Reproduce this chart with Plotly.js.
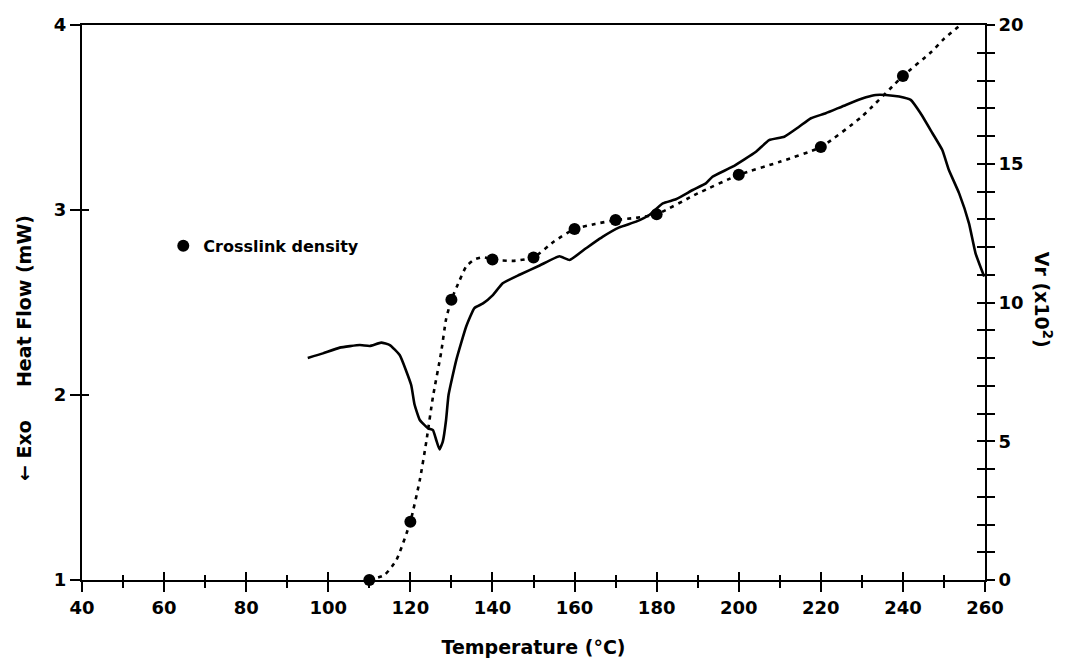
<!DOCTYPE html>
<html>
<head>
<meta charset="utf-8">
<script src="https://cdn.plot.ly/plotly-3.0.1.min.js"></script>
<style>
  html, body { margin: 0; padding: 0; background: #fff; }
  #chart { width: 1071px; height: 665px; }
</style>
</head>
<body>
<div id="chart"></div>
<script>
// DSC heat flow trace (left axis, mW) versus temperature (°C)
const heatT = [95, 98.7, 102.8, 107.7, 110.1, 112.9, 115, 117.4, 120.2, 121, 122.3, 124.3, 125.5, 126.3,
  127.1, 127.9, 128.7, 129.3, 131.2, 133.6, 135.6, 137.7, 140.1, 142.5, 146.6, 151.5, 156.3, 158.8,
  162.8, 166.9, 170.9, 175, 178.2, 181.5, 184.7, 188.8, 192, 193.6, 198.5, 204.2, 207.4, 211.1,
  214.7, 217.6, 221.2, 226.1, 231, 233.4, 235.8, 239.1, 241.9, 244.3, 247.2, 249.6, 251.2, 253.7,
  256.1, 257.7, 259.8];
const heatFlow = [2.2, 2.225, 2.256, 2.27, 2.265, 2.283, 2.27, 2.216, 2.054, 1.95, 1.865, 1.82, 1.81, 1.757,
  1.706, 1.748, 1.865, 2.0, 2.19, 2.37, 2.47, 2.495, 2.54, 2.604, 2.65, 2.7, 2.75, 2.73,
  2.793, 2.856, 2.906, 2.937, 2.973, 3.036, 3.058, 3.108, 3.144, 3.18, 3.234, 3.315, 3.378, 3.396,
  3.45, 3.496, 3.523, 3.568, 3.609, 3.622, 3.622, 3.613, 3.595, 3.523, 3.415, 3.324, 3.216, 3.09,
  2.928, 2.766, 2.64];

// Crosslink density measurements, Vr (x10^2), right axis
const crossT = [110, 120, 130, 140, 150, 160, 170, 180, 200, 220, 240];
const crossVr = [0, 2.1, 10.1, 11.55, 11.62, 12.65, 12.97, 13.18, 14.6, 15.6, 18.16];

// Hand-drawn guide curve through the crosslink points
const guideT = [110, 113.7, 116.6, 120, 122.3, 123.9, 125.5, 127.5, 128.7, 130, 132, 133.6, 135.6, 137.7,
  140, 145, 150, 155, 160, 165, 170, 175, 180, 190, 200, 210, 220, 230, 240, 247, 250, 254];
const guideVr = [0, 0.18, 0.72, 2.1, 3.6, 5.0, 6.6, 8.2, 9.4, 10.1, 10.8, 11.3, 11.55, 11.63,
  11.55, 11.5, 11.62, 12.2, 12.65, 12.83, 12.97, 13.05, 13.18, 13.93, 14.6, 15.07, 15.6, 16.7, 18.16, 19.04, 19.5, 20.0];

// Axis tick settings
const xTicks = [40, 60, 80, 100, 120, 140, 160, 180, 200, 220, 240, 260];
const leftTicks = [1, 2, 3, 4];
const rightTicks = [0, 5, 10, 15, 20];

const FONT = 'DejaVu Sans, sans-serif';
const INK = '#000';

const traces = [
  {
    x: heatT, y: heatFlow, xaxis: 'x', yaxis: 'y',
    mode: 'lines', line: {color: INK, width: 2.6, shape: 'spline', smoothing: 0.4},
    showlegend: false, hoverinfo: 'skip'
  },
  {
    x: guideT, y: guideVr, xaxis: 'x', yaxis: 'y2',
    mode: 'lines', line: {color: INK, width: 2.6, dash: '4px,5px', shape: 'spline', smoothing: 0.5},
    showlegend: false, hoverinfo: 'skip'
  },
  {
    x: crossT, y: crossVr, xaxis: 'x', yaxis: 'y2',
    mode: 'markers', name: 'Crosslink density',
    marker: {color: INK, size: 12}, cliponaxis: false
  },
  // carriers for the inward half of the crossing tick marks
  {x: [null], y: [null], xaxis: 'x2', yaxis: 'y3', showlegend: false, hoverinfo: 'skip'},
  {x: [null], y: [null], xaxis: 'x2', yaxis: 'y4', showlegend: false, hoverinfo: 'skip'}
];

const axisLine = {showline: true, linecolor: INK, linewidth: 2, showgrid: false, zeroline: false};
const NB = '\u00a0';

const layout = {
  width: 1071, height: 665,
  margin: {l: 82, r: 86, t: 25, b: 85},
  paper_bgcolor: '#fff', plot_bgcolor: '#fff',
  font: {family: FONT, color: INK, size: 18, weight: 'bold'},
  showlegend: true,
  legend: {
    x: 0.09, xanchor: 'left', y: 0.602, yanchor: 'middle',
    font: {family: FONT, size: 16, color: INK, weight: 'bold'},
    bgcolor: 'rgba(0,0,0,0)', borderwidth: 0
  },
  xaxis: Object.assign({}, axisLine, {
    range: [40, 260], tickmode: 'array', tickvals: xTicks,
    ticks: 'outside', ticklen: 10, tickwidth: 2, tickcolor: INK,
    minor: {dtick: 10, tick0: 40, ticks: 'outside', ticklen: 6, tickwidth: 2, tickcolor: INK},
    mirror: true,
    tickfont: {family: FONT, size: 18, weight: 'bold'},
    title: {text: 'Temperature (°C)', font: {family: FONT, size: 19, weight: 'bold'}, standoff: 24}
  }),
  xaxis2: {
    overlaying: 'x', anchor: 'y', side: 'bottom', range: [40, 260],
    tickmode: 'array', tickvals: xTicks, ticks: 'inside', ticklen: 8, tickwidth: 2, tickcolor: INK,
    minor: {dtick: 10, tick0: 40, ticks: 'inside', ticklen: 5, tickwidth: 2, tickcolor: INK},
    showticklabels: false, showgrid: false, zeroline: false, showline: false
  },
  yaxis: Object.assign({}, axisLine, {
    range: [1, 4], tickmode: 'array', tickvals: leftTicks,
    ticks: 'outside', ticklen: 10, tickwidth: 2, tickcolor: INK,
    tickfont: {family: FONT, size: 18, weight: 'bold'}
  }),
  yaxis3: {
    overlaying: 'y', anchor: 'x', side: 'left', range: [1, 4],
    tickmode: 'array', tickvals: leftTicks, ticks: 'inside', ticklen: 7, tickwidth: 2, tickcolor: INK,
    showticklabels: false, showgrid: false, zeroline: false, showline: false
  },
  yaxis2: Object.assign({}, axisLine, {
    overlaying: 'y', anchor: 'x', side: 'right', range: [0, 20],
    tickmode: 'array', tickvals: rightTicks,
    ticks: 'outside', ticklen: 8, tickwidth: 2, tickcolor: INK,
    minor: {dtick: 1, tick0: 0, ticks: 'outside', ticklen: 8, tickwidth: 2, tickcolor: INK},
    tickfont: {family: FONT, size: 18, weight: 'bold'}
  }),
  yaxis4: {
    overlaying: 'y', anchor: 'x', side: 'right', range: [0, 20],
    tickmode: 'array', tickvals: rightTicks, ticks: 'inside', ticklen: 8, tickwidth: 2, tickcolor: INK,
    minor: {dtick: 1, tick0: 0, ticks: 'inside', ticklen: 8, tickwidth: 2, tickcolor: INK},
    showticklabels: false, showgrid: false, zeroline: false, showline: false
  },
  annotations: [
    // left axis title: exotherm direction and heat flow units
    {
      xref: 'paper', yref: 'paper', x: 0, y: 0.418, xshift: -58, xanchor: 'center', yanchor: 'middle',
      text: '\u2190' + NB + 'Exo' + NB.repeat(5) + 'Heat Flow (mW)', textangle: -90, showarrow: false,
      font: {family: FONT, size: 19, weight: 'bold', color: INK}
    },
    // right axis title
    {
      xref: 'paper', yref: 'paper', x: 1, y: 0.505, xshift: 58, xanchor: 'center', yanchor: 'middle',
      text: 'Vr (x10<sup>2</sup>)', textangle: 90, showarrow: false,
      font: {family: FONT, size: 19, weight: 'bold', color: INK}
    }
  ]
};

Plotly.newPlot('chart', traces, layout, {staticPlot: true, displayModeBar: false});
</script>
</body>
</html>
